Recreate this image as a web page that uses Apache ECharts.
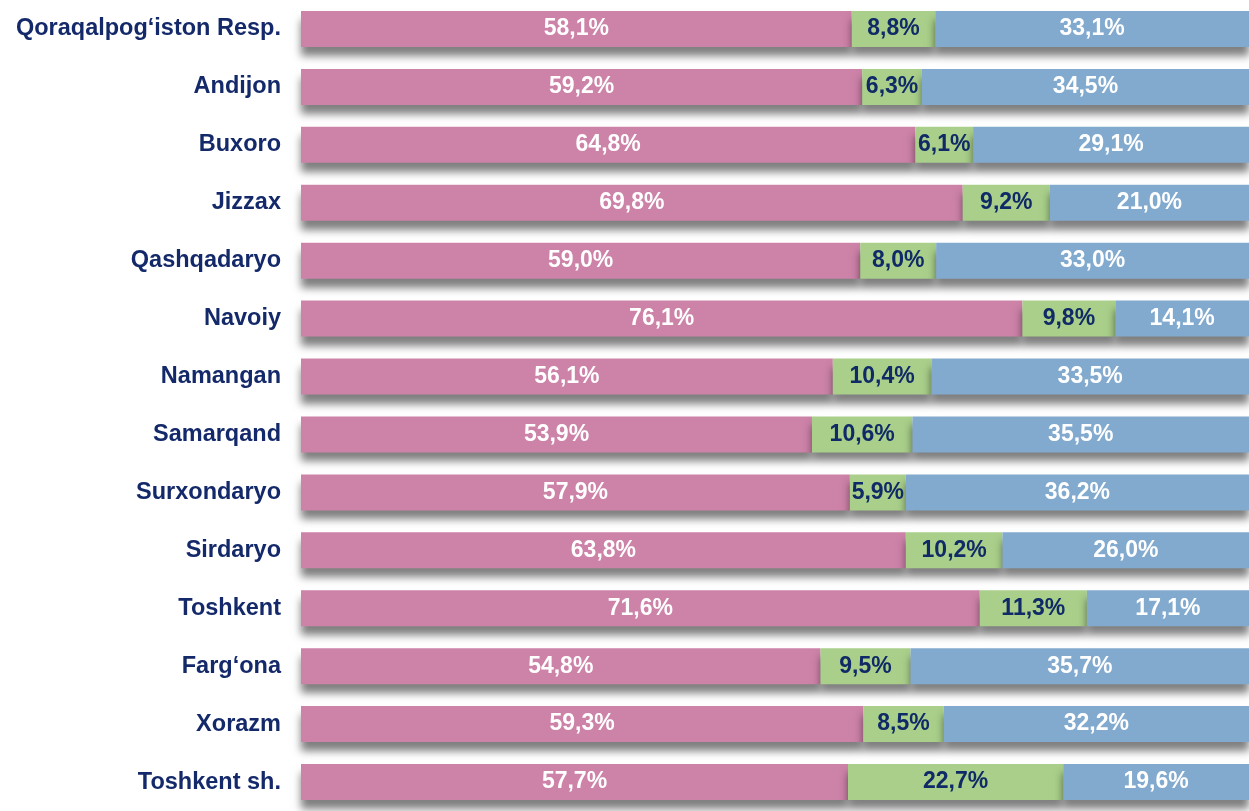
<!DOCTYPE html>
<html>
<head>
<meta charset="utf-8">
<script src="https://cdn.jsdelivr.net/npm/echarts@6/dist/echarts.min.js"></script>
<style>
html,body{margin:0;padding:0;background:#fff;}
#chart{width:1249px;height:811px;}
</style>
</head>
<body>
<div id="chart"></div>
<script>
var regions = ['Qoraqalpog‘iston Resp.','Andijon','Buxoro','Jizzax','Qashqadaryo','Navoiy','Namangan','Samarqand','Surxondaryo','Sirdaryo','Toshkent','Farg‘ona','Xorazm','Toshkent sh.'];
var share1 = [58.1,59.2,64.8,69.8,59.0,76.1,56.1,53.9,57.9,63.8,71.6,54.8,59.3,57.7];
var share2 = [8.8,6.3,6.1,9.2,8.0,9.8,10.4,10.6,5.9,10.2,11.3,9.5,8.5,22.7];
var share3 = [33.1,34.5,29.1,21.0,33.0,14.1,33.5,35.5,36.2,26.0,17.1,35.7,32.2,19.6];

function fmt(p){
	return p.value.toFixed(1).replace('.',',')+'%';
}
function makeSeries(data,color,txt){
	return {
		type:'bar',
		stack:'all',
		barWidth:36,
		data:data,
		itemStyle:{
			color:color,
			shadowColor:'rgba(0,0,0,0.5)',
			shadowBlur:8,
			shadowOffsetY:9
		},
		label:{
			show:true,
			position:'inside',
			formatter:fmt,
			color:txt,
			fontFamily:'Liberation Sans, Arial, sans-serif',
			fontWeight:'bold',
			fontSize:23
		}
	};
}

var chart = echarts.init(document.getElementById('chart'));
chart.setOption({
	animation:false,
	grid:{left:301,right:0,top:-2,height:815},
	xAxis:{
		type:'value',
		min:0,
		max:100,
		show:false
	},
	yAxis:{
		type:'category',
		inverse:true,
		data:regions,
		axisLine:{show:false},
		axisTick:{show:false},
		axisLabel:{
			margin:20,
			color:'#14296A',
			fontFamily:'Liberation Sans, Arial, sans-serif',
			fontWeight:'bold',
			fontSize:23.5
		}
	},
	series:[
		makeSeries(share1,'#CD82A8','#ffffff'),
		makeSeries(share2,'#A9CF8A','#0F2A66'),
		makeSeries(share3,'#82AACE','#ffffff')
	]
});
</script>
</body>
</html>
